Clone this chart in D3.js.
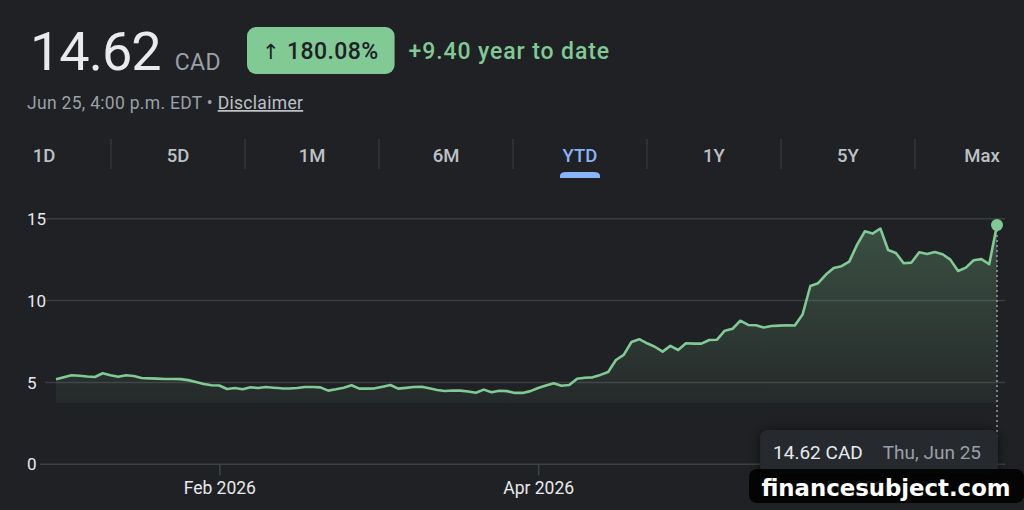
<!DOCTYPE html>
<html>
<head>
<meta charset="utf-8">
<script src="https://cdn.jsdelivr.net/npm/d3@7"></script>
<style>
  html, body { margin: 0; padding: 0; background: #202124; }
  svg { display: block; font-family: Roboto, "Noto Sans", sans-serif; }
</style>
</head>
<body>
<script>
// closing prices, one per trading day, Jan 2 - Jun 25 2026
const prices = [5.19, 5.31, 5.44, 5.41, 5.36, 5.33, 5.56, 5.44, 5.35, 5.44,
  5.39, 5.27, 5.25, 5.23, 5.21, 5.21, 5.20, 5.14, 5.03, 4.91,
  4.83, 4.81, 4.60, 4.66, 4.58, 4.70, 4.66, 4.72, 4.68, 4.64,
  4.63, 4.66, 4.72, 4.72, 4.70, 4.50, 4.58, 4.68, 4.83, 4.62,
  4.62, 4.64, 4.74, 4.84, 4.62, 4.67, 4.72, 4.74, 4.64, 4.54,
  4.48, 4.51, 4.50, 4.45, 4.37, 4.56, 4.40, 4.49, 4.47, 4.36,
  4.36, 4.47, 4.66, 4.81, 4.95, 4.80, 4.84, 5.23, 5.29, 5.31,
  5.46, 5.64, 6.37, 6.68, 7.47, 7.64, 7.39, 7.18, 6.88, 7.23,
  6.98, 7.39, 7.37, 7.37, 7.59, 7.61, 8.16, 8.28, 8.77, 8.51,
  8.49, 8.36, 8.45, 8.47, 8.49, 8.48, 9.15, 10.89, 11.06, 11.59,
  11.99, 12.10, 12.38, 13.40, 14.23, 14.09, 14.40, 13.09, 12.91, 12.28,
  12.32, 12.95, 12.85, 12.96, 12.83, 12.50, 11.81, 12.01, 12.46, 12.53,
  12.22, 14.62];
const prevClose = 5.22;
const firstDay = "2026-01-02";
const lastDay = "2026-06-25";
const holidays = ["2026-02-16", "2026-04-03", "2026-05-18"];
const yTicks = [0, 5, 10, 15];
const monthTicks = ["2026-02", "2026-04", "2026-06"];
const ranges = ["1D", "5D", "1M", "6M", "YTD", "1Y", "5Y", "Max"];
const activeRange = "YTD";
const currency = "CAD";
const closeTime = "4:00 p.m. EDT";

const W = 1024, H = 510;
const bg = "#202124", green = "#81c995", blue = "#8ab4f8";
const fmtDay = d3.timeFormat("%Y-%m-%d");
const parseDay = d3.timeParse("%Y-%m-%d");

const days = d3.timeDay.range(parseDay(firstDay), d3.timeDay.offset(parseDay(lastDay), 1))
  .filter(d => d.getDay() % 6 !== 0 && !holidays.includes(fmtDay(d)));

const svg = d3.select("body").append("svg").attr("width", W).attr("height", H);
svg.append("rect").attr("width", W).attr("height", H).attr("fill", bg);

// ---- header
const last = prices[prices.length - 1];
const change = last - prevClose;
const pct = change / prevClose * 100;

const priceText = svg.append("text").attr("x", 30).attr("y", 70)
  .attr("font-size", 54).attr("letter-spacing", -1).attr("fill", "#e8eaed")
  .text(last.toFixed(2));
let xc = 30 + priceText.node().getComputedTextLength() + 14;
svg.append("text").attr("x", xc).attr("y", 70)
  .attr("font-size", 23).attr("letter-spacing", 0.5).attr("fill", "#9aa0a6").text(currency);
xc = 247;

const badge = svg.append("g");
const badgeRect = badge.append("rect").attr("x", xc).attr("y", 27).attr("height", 47)
  .attr("rx", 9).attr("fill", green);
const badgeText = badge.append("text").attr("x", xc + 15).attr("y", 59)
  .attr("font-size", 23).attr("font-weight", 500).attr("letter-spacing", 0.4).attr("fill", "#202124");
badgeText.append("tspan").attr("font-family", "DejaVu Sans").attr("font-size", 21).text("\u2191 ");
badgeText.append("tspan").text(pct.toFixed(2) + "%");
const bw = badgeText.node().getComputedTextLength() + 31;
badgeRect.attr("width", bw);
xc += bw + 14;
svg.append("text").attr("x", xc).attr("y", 59)
  .attr("font-size", 23).attr("font-weight", 500).attr("letter-spacing", 0.9).attr("fill", green)
  .text("+" + change.toFixed(2) + " year to date");

const sub = svg.append("text").attr("x", 27).attr("y", 109)
  .attr("font-size", 17.5).attr("letter-spacing", 0.3).attr("fill", "#9aa0a6");
sub.append("tspan").text(d3.timeFormat("%b %-d, ")(days[days.length - 1]) + closeTime + " \u2022 ");
sub.append("tspan").attr("fill", "#bdc1c6").attr("text-decoration", "underline").text("Disclaimer");

// ---- range tabs
const tabs = d3.scaleBand().domain(ranges).range([-23, 1049]);
svg.selectAll(".sep").data(ranges.slice(1)).join("line")
  .attr("x1", d => tabs(d)).attr("x2", d => tabs(d))
  .attr("y1", 139).attr("y2", 169).attr("stroke", "#3c4043").attr("stroke-width", 1);
svg.selectAll(".tab").data(ranges).join("text")
  .attr("x", d => tabs(d) + tabs.bandwidth() / 2).attr("y", 162)
  .attr("text-anchor", "middle").attr("font-size", 18.5).attr("font-weight", 500)
  .attr("fill", d => d === activeRange ? blue : "#bdc1c6").text(d => d);
const tc = tabs(activeRange) + tabs.bandwidth() / 2;
svg.append("path")
  .attr("d", `M${tc - 20},178 V176 Q${tc - 20},172 ${tc - 14},172 H${tc + 14} Q${tc + 20},172 ${tc + 20},176 V178 Z`)
  .attr("fill", blue);

// ---- chart
const x = d3.scaleLinear().domain([0, prices.length - 1]).range([56, 997]);
const y = d3.scaleLinear().domain([0, 15]).range([464.3, 218.7]);
const areaFloor = 3.75;

const defs = svg.append("defs");
const grad = defs.append("linearGradient").attr("id", "fillGrad")
  .attr("gradientUnits", "userSpaceOnUse")
  .attr("x1", 0).attr("x2", 0).attr("y1", y(d3.max(prices))).attr("y2", y(areaFloor));
grad.append("stop").attr("offset", 0).attr("stop-color", green).attr("stop-opacity", 0.28);
grad.append("stop").attr("offset", 1).attr("stop-color", green).attr("stop-opacity", 0.05);

const shadow = defs.append("filter").attr("id", "shadow")
  .attr("x", -0.2).attr("y", -0.5).attr("width", 1.4).attr("height", 2);
shadow.append("feDropShadow").attr("dx", 0).attr("dy", 1).attr("stdDeviation", 6)
  .attr("flood-color", "#000").attr("flood-opacity", 0.6);

// gridlines + y labels
svg.selectAll(".grid").data(yTicks).join("line")
  .attr("x1", d => d === 0 ? 40 : 45).attr("x2", 1005)
  .attr("y1", d => y(d)).attr("y2", d => y(d))
  .attr("stroke", d => d === 0 ? "#3d4542" : "#3a3e40").attr("stroke-width", 1.5);
svg.selectAll(".ylab").data(yTicks).join("text")
  .attr("x", 27).attr("y", d => y(d)).attr("dy", "0.36em")
  .attr("font-size", 17).attr("fill", "#e8eaed").text(d => d);

// x axis month ticks
const tickIdx = monthTicks.map(m => days.findIndex(d => d3.timeFormat("%Y-%m")(d) === m));
const xAxis = d3.axisBottom(x).tickValues(tickIdx)
  .tickFormat(i => d3.timeFormat("%b %Y")(days[i])).tickSize(11).tickPadding(6);
const gx = svg.append("g").attr("transform", `translate(0,${y(0)})`).call(xAxis);
gx.select(".domain").remove();
gx.selectAll(".tick line").attr("stroke", "#3d4542").attr("stroke-width", 1.5);
gx.selectAll(".tick text").attr("fill", "#e8eaed").attr("font-size", 17.5)
  .attr("font-family", "Roboto, sans-serif");

// area + line
svg.append("path").datum(prices)
  .attr("d", d3.area().x((d, i) => x(i)).y0(y(areaFloor)).y1(d => y(d)))
  .attr("fill", "url(#fillGrad)");
svg.append("path").datum(prices)
  .attr("d", d3.line().x((d, i) => x(i)).y(d => y(d)))
  .attr("fill", "none").attr("stroke", green).attr("stroke-width", 2.6)
  .attr("stroke-linejoin", "round");

// hover marker on last point
const li = prices.length - 1;
svg.append("line").attr("x1", x(li)).attr("x2", x(li)).attr("y1", y(last)).attr("y2", y(0))
  .attr("stroke", "#9aa0a6").attr("stroke-width", 1.5).attr("stroke-dasharray", "2,3");
svg.append("circle").attr("cx", x(li)).attr("cy", y(last)).attr("r", 6).attr("fill", green);

// tooltip
const tip = svg.append("g");
const tipRect = tip.append("rect").attr("y", 430).attr("height", 44).attr("rx", 8)
  .attr("fill", "#28292d").attr("filter", "url(#shadow)");
const t1 = tip.append("text").attr("y", 459).attr("font-size", 19).attr("fill", "#e8eaed")
  .text(last.toFixed(2) + " " + currency);
const t2 = tip.append("text").attr("y", 459).attr("font-size", 19).attr("fill", "#9aa0a6")
  .text(d3.timeFormat("%a, %b %-d")(days[li]));
const w1 = t1.node().getComputedTextLength(), w2 = t2.node().getComputedTextLength();
const tipW = w1 + w2 + 30 + 20;
const tipX = x(li) + 1 - tipW;
tipRect.attr("x", tipX).attr("width", tipW);
t1.attr("x", tipX + 13);
t2.attr("x", tipX + 13 + w1 + 20);

// watermark
svg.append("rect").attr("x", 749).attr("y", 469).attr("width", 275).attr("height", 34)
  .attr("rx", 8).attr("fill", "rgba(0,0,0,0.88)");
svg.append("text").attr("x", 886).attr("y", 496).attr("text-anchor", "middle")
  .attr("font-family", "DejaVu Sans").attr("font-weight", "bold").attr("font-size", 22.8)
  .attr("fill", "#fff").text("financesubject.com");
</script>
</body>
</html>
